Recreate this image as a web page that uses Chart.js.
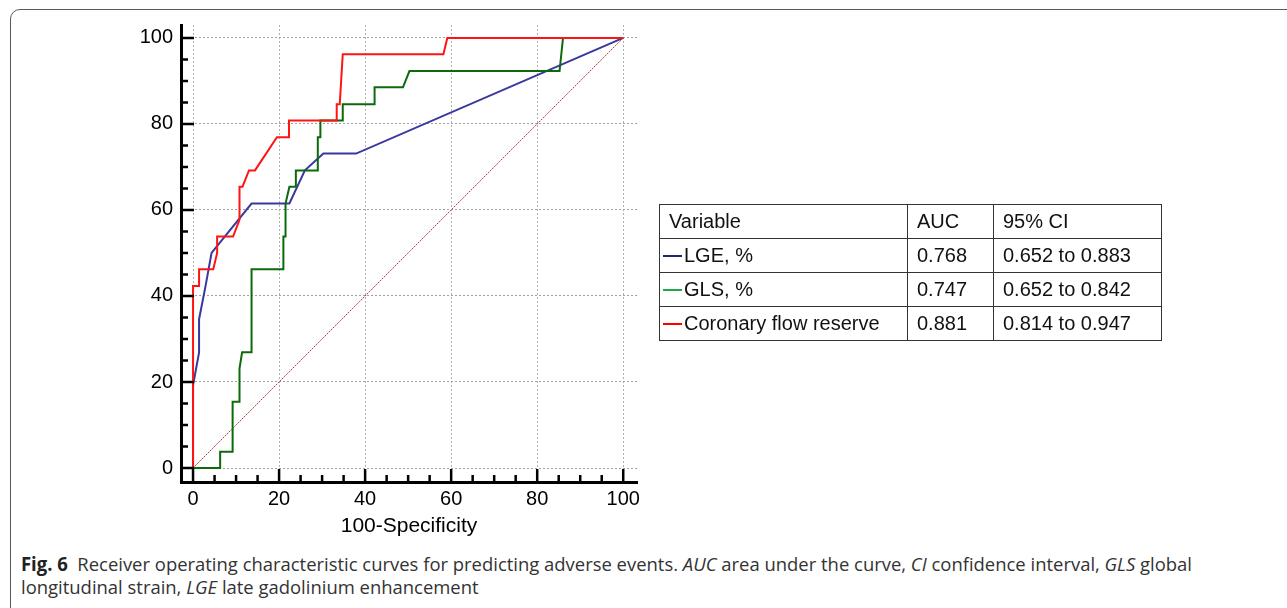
<!DOCTYPE html>
<html>
<head>
<meta charset="utf-8">
<script src="https://cdn.jsdelivr.net/npm/chart.js@4.4.1/dist/chart.umd.min.js"></script>
<style>
  body { margin: 0; background: #fff; width: 1287px; height: 608px; overflow: hidden; position: relative; }
  #frame { position: absolute; left: 10px; top: 9px; width: 1320px; height: 640px;
           border: 1.5px solid #5a5a5a; border-radius: 10px; }
  #roc { position: absolute; left: 0; top: 0; }
  #tbl { position: absolute; left: 659px; top: 204px; border-collapse: collapse;
         font-family: "Liberation Sans", Arial, sans-serif; font-size: 20px; color: #111; }
  #tbl td { border: 1px solid #333; height: 33px; padding: 0 0 0 9px; white-space: nowrap; }
  #tbl td.v { padding-left: 3px; }
  .mk { display: inline-block; width: 19px; height: 2px; vertical-align: middle; margin-right: 2px; position: relative; top: -1px; }
  #cap { position: absolute; left: 21px; top: 553px; font-family: "Open Sans", sans-serif; font-size: 19px;
         line-height: 23px; color: #333; white-space: nowrap; transform-origin: 0 0; }
  #cap b { color: #222; }
</style>
</head>
<body>
<div id="frame"></div>
<canvas id="roc" width="660" height="545"></canvas>
<table id="tbl">
  <tr><td style="width:238px">Variable</td><td style="width:76px">AUC</td><td style="width:158px">95% CI</td></tr>
  <tr><td class="v"><span class="mk" style="background:#1a2b6d"></span>LGE, %</td><td>0.768</td><td>0.652 to 0.883</td></tr>
  <tr><td class="v"><span class="mk" style="background:#1fa84a"></span>GLS, %</td><td>0.747</td><td>0.652 to 0.842</td></tr>
  <tr><td class="v"><span class="mk" style="background:#ff0000"></span>Coronary flow reserve</td><td>0.881</td><td>0.814 to 0.947</td></tr>
</table>
<div id="cap"><span id="cap1"><b>Fig. 6</b>&nbsp; Receiver operating characteristic curves for predicting adverse events. <i>AUC</i> area under the curve, <i>CI</i> confidence interval, <i>GLS</i> global</span><br>longitudinal strain, <i>LGE</i> late gadolinium enhancement</div>

<script>
// ROC points (100-Specificity, Sensitivity)
var lgeX = [0, 0, 1.4, 1.4, 2.9, 4.3, 13.6, 22.4, 26.0, 30.3, 37.9, 100];
var lgeY = [0, 19.2, 26.9, 34.6, 42.3, 50.0, 61.5, 61.5, 69.2, 73.1, 73.1, 100];

var glsX = [0, 6.3, 6.3, 9.2, 9.2, 10.8, 10.8, 11.4, 13.6, 13.6, 21.0, 21.0, 21.5, 21.5, 22.4, 23.9, 23.9, 29.0, 29.0, 29.6, 29.6, 34.8, 34.8, 42.2, 42.2, 48.8, 50.3, 85.2, 86.0, 100];
var glsY = [0, 0, 3.8, 3.8, 15.4, 15.4, 23.1, 26.9, 26.9, 46.2, 46.2, 53.8, 53.8, 61.5, 65.4, 65.4, 69.2, 69.2, 76.9, 76.9, 80.8, 80.8, 84.6, 84.6, 88.5, 88.5, 92.3, 92.3, 100, 100];

var cfrX = [0, 0, 1.4, 1.4, 4.7, 5.6, 5.6, 9.3, 10.8, 10.8, 11.5, 13.0, 14.4, 19.5, 22.3, 22.3, 33.4, 33.4, 34.1, 34.8, 58.2, 59.1, 100];
var cfrY = [0, 42.3, 42.3, 46.2, 46.2, 50.0, 53.8, 53.8, 57.7, 65.4, 65.4, 69.2, 69.2, 76.9, 76.9, 80.8, 80.8, 84.6, 84.6, 96.2, 96.2, 100, 100];

var refX = [0, 100];
var refY = [0, 100];

var majorTicks = [0, 20, 40, 60, 80, 100];
var minorTicks = [5, 10, 15, 25, 30, 35, 45, 50, 55, 65, 70, 75, 85, 90, 95];

function pts(xs, ys) {
    return xs.map(function (x, i) { return {x: x, y: ys[i]}; });
}

function line_set(label, xs, ys, color, width, order) {
    return {
        label: label,
        data: pts(xs, ys),
        borderColor: color,
        borderWidth: width,
        showLine: true,
        fill: false,
        pointRadius: 0,
        tension: 0,
        order: order
    };
}

// tick marks point inward from the axis line, short ones every 5
var tickMarks = {
    id: 'tickMarks',
    afterDraw: function (chart) {
        var ctx = chart.ctx, a = chart.chartArea, sx = chart.scales.x, sy = chart.scales.y;
        ctx.save();
        ctx.strokeStyle = '#000';
        ctx.lineWidth = 2.5;
        ctx.beginPath();
        majorTicks.forEach(function (v) {
            var px = sx.getPixelForValue(v), py = sy.getPixelForValue(v);
            ctx.moveTo(px, a.bottom); ctx.lineTo(px, a.bottom - 13);
            ctx.moveTo(a.left, py); ctx.lineTo(a.left + 13, py);
        });
        minorTicks.forEach(function (v) {
            var px = sx.getPixelForValue(v), py = sy.getPixelForValue(v);
            ctx.moveTo(px, a.bottom); ctx.lineTo(px, a.bottom - 7);
            ctx.moveTo(a.left, py); ctx.lineTo(a.left + 7, py);
        });
        ctx.stroke();
        ctx.restore();
    }
};

var tickFont = {family: '"Liberation Sans", Arial, sans-serif', size: 20};

new Chart(document.getElementById('roc'), {
    type: 'scatter',
    data: {
        datasets: [
            line_set('Coronary flow reserve', cfrX, cfrY, '#ff1414', 2, 1),
            line_set('GLS, %', glsX, glsY, '#0b6b0b', 2, 2),
            line_set('LGE, %', lgeX, lgeY, '#38389e', 2, 3),
            Object.assign(line_set('Reference', refX, refY, '#9c4040', 1, 4), {borderDash: [2, 1]})
        ]
    },
    options: {
        responsive: false,
        animation: false,
        layout: {padding: {top: 25, right: 23, left: 0, bottom: 0}},
        plugins: {legend: {display: false}, tooltip: {enabled: false}},
        scales: {
            x: {
                type: 'linear',
                min: -2.8,
                max: 103.2,
                afterBuildTicks: function (s) { s.ticks = majorTicks.map(function (v) { return {value: v}; }); },
                afterFit: function (s) { s.height = 63; },
                ticks: {font: tickFont, color: '#000', padding: 5, maxRotation: 0, autoSkip: false},
                grid: {color: '#b0b0b0', lineWidth: 1, drawTicks: false},
                border: {display: true, color: '#000', width: 3, dash: [2, 2]},
                title: {
                    display: true,
                    text: '100-Specificity',
                    color: '#000',
                    font: {family: '"Liberation Sans", Arial, sans-serif', size: 21},
                    padding: {top: 0, bottom: 6}
                }
            },
            y: {
                type: 'linear',
                min: -3.25,
                max: 103.0,
                afterBuildTicks: function (s) { s.ticks = majorTicks.map(function (v) { return {value: v}; }); },
                afterFit: function (s) { s.width = 181; },
                ticks: {font: tickFont, color: '#000', padding: 8, autoSkip: false},
                grid: {color: '#a0a0a0', lineWidth: 1, drawTicks: false},
                border: {display: true, color: '#000', width: 3, dash: [2, 2]}
            }
        }
    },
    plugins: [tickMarks]
});

// squeeze the caption so the first line spans the same width as the figure text
var cap = document.getElementById('cap');
var w = document.getElementById('cap1').getBoundingClientRect().width;
cap.style.transform = 'scaleX(' + (1171 / w) + ')';
</script>
</body>
</html>
